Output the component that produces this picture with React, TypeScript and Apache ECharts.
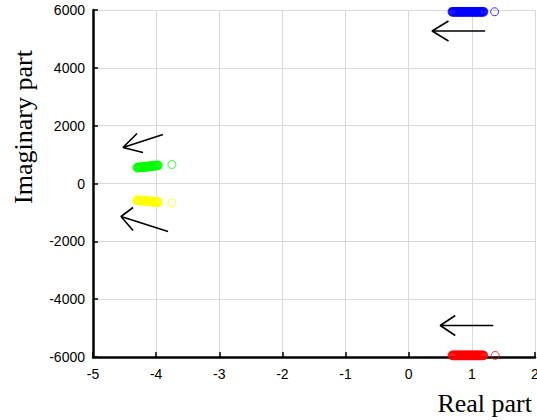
import React, { useEffect, useRef } from "react";
import * as echarts from "echarts";

const xTicks = [-5, -4, -3, -2, -1, 0, 1, 2];
const yTicks = [-6000, -4000, -2000, 0, 2000, 4000, 6000];

// trail of eigenvalues, final (isolated) eigenvalue last
const blueRe = [0.690, 0.705, 0.720, 0.735, 0.750, 0.765, 0.780, 0.795, 0.810, 0.825, 0.840, 0.855, 0.870, 0.885, 0.900, 0.915, 0.930, 0.945, 0.960, 0.975, 0.990, 1.005, 1.020, 1.035, 1.050, 1.065, 1.080, 1.095, 1.110, 1.125, 1.140, 1.155, 1.170, 1.185, 1.36];
const blueIm = [5940, 5940, 5940, 5940, 5940, 5940, 5940, 5940, 5940, 5940, 5940, 5940, 5940, 5940, 5940, 5940, 5940, 5940, 5940, 5940, 5940, 5940, 5940, 5940, 5940, 5940, 5940, 5940, 5940, 5940, 5940, 5940, 5940, 5940, 5940];

const redRe = [0.690, 0.705, 0.720, 0.735, 0.750, 0.765, 0.780, 0.795, 0.810, 0.825, 0.840, 0.855, 0.870, 0.885, 0.900, 0.915, 0.930, 0.945, 0.960, 0.975, 0.990, 1.005, 1.020, 1.035, 1.050, 1.065, 1.080, 1.095, 1.110, 1.125, 1.140, 1.155, 1.170, 1.185, 1.37];
const redIm = [-5945, -5945, -5945, -5945, -5945, -5945, -5945, -5945, -5945, -5945, -5945, -5945, -5945, -5945, -5945, -5945, -5945, -5945, -5945, -5945, -5945, -5945, -5945, -5945, -5945, -5945, -5945, -5945, -5945, -5945, -5945, -5945, -5945, -5945, -5945];

const greenRe = [-4.300, -4.285, -4.270, -4.255, -4.240, -4.225, -4.210, -4.195, -4.180, -4.165, -4.150, -4.135, -4.120, -4.105, -4.090, -4.075, -4.060, -4.045, -4.030, -4.015, -4.000, -3.985, -3.970, -3.75];
const greenIm = [550, 553, 556, 559, 562, 565, 568, 571, 574, 578, 582, 586, 590, 594, 598, 602, 606, 610, 614, 618, 622, 625, 628, 657];

const yellowRe = [-4.300, -4.285, -4.270, -4.255, -4.240, -4.225, -4.210, -4.195, -4.180, -4.165, -4.150, -4.135, -4.120, -4.105, -4.090, -4.075, -4.060, -4.045, -4.030, -4.015, -4.000, -3.985, -3.970, -3.75];
const yellowIm = [-577, -580, -583, -586, -589, -592, -595, -598, -601, -604, -607, -610, -613, -616, -619, -622, -625, -628, -631, -634, -638, -642, -646, -668];

// arrow annotations: [re, im] polyline wing1 -> head -> wing2 -> head -> tail
const blueArrow = [[0.63, 5619], [0.37, 5273], [0.63, 4927], [0.37, 5273], [1.21, 5273]];
const redArrow = [[0.737, -4565], [0.499, -4910], [0.737, -5256], [0.499, -4910], [1.339, -4910]];
const greenArrow = [[-4.303, 1729], [-4.525, 1245], [-4.208, 1072], [-4.525, 1245], [-3.891, 1694]];
const yellowArrow = [[-4.366, -830], [-4.556, -1141], [-4.366, -1625], [-4.556, -1141], [-3.811, -1660]];

function pts(re: number[], im: number[]) {
  return re.map((r, i) =>
    i === re.length - 1
      ? { value: [r, im[i]], itemStyle: { borderWidth: 1 } }
      : { value: [r, im[i]] }
  );
}

export default function App() {
  const ref = useRef<HTMLDivElement>(null);
  useEffect(() => {
    const chart = echarts.init(ref.current!, null, { renderer: "svg" });
    const scatter = (color: string, re: number[], im: number[]) => ({
      type: "scatter",
      data: pts(re, im),
      symbol: "circle",
      symbolSize: 8,
      itemStyle: { color: "transparent", borderColor: color, borderWidth: 1.6 },
      silent: true,
      z: 3,
    });
    const arrow = (d: number[][]) => ({
      type: "line",
      data: d,
      symbol: "none",
      lineStyle: { color: "#000", width: 1.6 },
      silent: true,
      z: 4,
    });
    chart.setOption({
      animation: false,
      grid: { left: 93, right: 2, top: 10, bottom: 63, outerBoundsMode: "none", containLabel: false },
      xAxis: {
        type: "value",
        min: xTicks[0],
        max: xTicks[xTicks.length - 1],
        interval: 1,
        axisLine: { show: true, onZero: false, lineStyle: { color: "#000", width: 2.5 } },
        axisTick: { show: true, inside: true, length: 5, lineStyle: { color: "#000", width: 1.5 } },
        axisLabel: { color: "#000", fontSize: 14, fontFamily: "Liberation Sans", margin: 10, formatter: (v: number) => String(v) },
        splitLine: { show: true, lineStyle: { color: "#d9d9d9", width: 1 } },
      },
      yAxis: {
        type: "value",
        min: yTicks[0],
        max: yTicks[yTicks.length - 1],
        interval: 2000,
        axisLine: { show: true, onZero: false, lineStyle: { color: "#000", width: 2.5 } },
        axisTick: { show: true, inside: true, length: 5, lineStyle: { color: "#000", width: 1.5 } },
        axisLabel: { color: "#000", fontSize: 14, fontFamily: "Liberation Sans", margin: 8, formatter: (v: number) => String(v) },
        splitLine: { show: true, lineStyle: { color: "#d9d9d9", width: 1 } },
      },
      graphic: [
        {
          type: "text",
          x: 23,
          y: 127,
          rotation: Math.PI / 2,
          style: {
            text: "Imaginary part",
            font: "26px 'Liberation Serif'",
            fill: "#000",
            align: "center",
            verticalAlign: "middle",
          },
        },
        {
          type: "text",
          x: 532,
          y: 403,
          style: {
            text: "Real part",
            font: "26px 'Liberation Serif'",
            fill: "#000",
            align: "right",
            verticalAlign: "middle",
          },
        },
      ],
      series: [
        scatter("#0000ff", blueRe, blueIm),
        scatter("#ff0000", redRe, redIm),
        scatter("#00ff00", greenRe, greenIm),
        scatter("#ffff00", yellowRe, yellowIm),
        arrow(blueArrow),
        arrow(redArrow),
        arrow(greenArrow),
        arrow(yellowArrow),
      ],
    });
    return () => chart.dispose();
  }, []);
  return <div ref={ref} style={{ position: "absolute", left: 0, top: 0, width: 537, height: 420 }} />;
}
